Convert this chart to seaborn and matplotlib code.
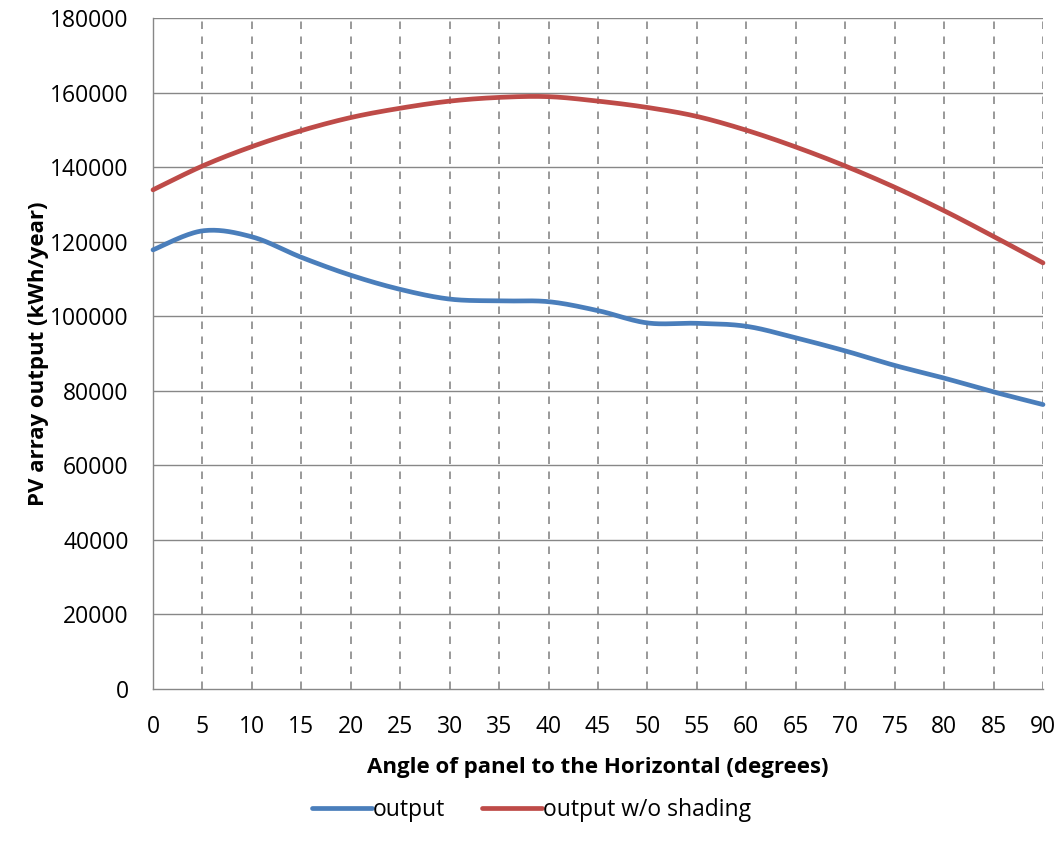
import numpy as np
import pandas as pd
import matplotlib
matplotlib.use("Agg")
import matplotlib.pyplot as plt
import seaborn as sns
from matplotlib.lines import Line2D

angles = [0, 5, 10, 15, 20, 25, 30, 35, 40, 45, 50, 55, 60, 65, 70, 75, 80, 85, 90]
output = [117800, 122900, 121300, 115800, 111000, 107200, 104600, 104100, 103900,
          101500, 98200, 98100, 97300, 94200, 90700, 86800, 83400, 79700, 76300]
output_no_shading = [133900, 140300, 145500, 149800, 153300, 155800, 157700, 158700, 158900,
                     157700, 156000, 153600, 149900, 145400, 140300, 134600, 128300, 121400, 114300]
series_names = ["output", "output w/o shading"]
colors = ["#4A7EBB", "#BE4B48"]
y_ticks = list(range(0, 180001, 20000))
x_ticks = list(range(0, 91, 5))

FONT = ["Open Sans", "DejaVu Sans"]


def smooth(x, y, n=30):
    # Bezier smoothing similar to Excel's smoothed line
    x = np.asarray(x, float)
    y = np.asarray(y, float)
    xs, ys = [], []
    for i in range(len(x) - 1):
        p0 = np.array([x[max(i - 1, 0)], y[max(i - 1, 0)]])
        p1 = np.array([x[i], y[i]])
        p2 = np.array([x[i + 1], y[i + 1]])
        p3 = np.array([x[min(i + 2, len(x) - 1)], y[min(i + 2, len(x) - 1)]])
        c1 = p1 + (p2 - p0) / 6.0
        c2 = p2 - (p3 - p1) / 6.0
        t = np.linspace(0, 1, n, endpoint=(i == len(x) - 2))[:, None]
        pts = ((1 - t) ** 3) * p1 + 3 * ((1 - t) ** 2) * t * c1 + 3 * (1 - t) * t ** 2 * c2 + t ** 3 * p2
        xs.append(pts[:, 0])
        ys.append(pts[:, 1])
    return np.concatenate(xs), np.concatenate(ys)


frames = []
for name, vals in zip(series_names, [output, output_no_shading]):
    sx, sy = smooth(angles, vals)
    frames.append(pd.DataFrame({"angle": sx, "value": sy, "series": name}))
df = pd.concat(frames, ignore_index=True)

sns.set_style("white")
plt.rcParams["font.family"] = FONT
plt.rcParams["text.color"] = "black"
plt.rcParams["axes.labelcolor"] = "black"

fig = plt.figure(figsize=(10.57, 8.51), dpi=100)
ax = fig.add_axes([153 / 1057, 1 - 689 / 851, (1043 - 153) / 1057, (689 - 18) / 851])

sns.lineplot(data=df, x="angle", y="value", hue="series", palette=dict(zip(series_names, colors)),
             sort=False, estimator=None, linewidth=3.4, ax=ax, legend=False)
for ln in ax.get_lines():
    ln.set_solid_capstyle("round")
    ln.set_solid_joinstyle("round")
    ln.set_clip_on(False)
    ln.set_zorder(3)

ax.set_xlim(0, 90)
ax.set_ylim(0, 180000)
ax.set_xticks(x_ticks)
ax.set_yticks(y_ticks)
ax.set_xticklabels([str(v) for v in x_ticks])
ax.set_yticklabels([str(v) for v in y_ticks])

gridc = "#878787"
for v in y_ticks[1:]:
    ax.axhline(v, color=gridc, linewidth=1.0, zorder=0)
for v in x_ticks[1:]:
    ax.axvline(v, color=gridc, linewidth=1.2, linestyle=(0, (4.5, 4.5)), zorder=0)

for s in ["top", "right"]:
    ax.spines[s].set_visible(False)
for s in ["left", "bottom"]:
    ax.spines[s].set_color(gridc)
    ax.spines[s].set_linewidth(1.0)

ax.tick_params(axis="both", which="major", length=5.5, width=1.0, color=gridc,
               labelsize=16.5, labelcolor="black", direction="out")
ax.tick_params(axis="y", pad=12)
ax.tick_params(axis="x", pad=13)

ax.set_xlabel("Angle of panel to the Horizontal (degrees)", fontsize=16, fontweight="bold",
              labelpad=13, color="black")
ax.set_ylabel("PV array output (kWh/year)", fontsize=16, fontweight="bold", labelpad=1, color="black")

handles = [Line2D([0], [0], color=c, linewidth=3.4, solid_capstyle="round") for c in colors]
fig.legend(handles, series_names, loc="center", bbox_to_anchor=(0.503, 1 - 810 / 851), ncol=2,
           frameon=False, fontsize=16.5, handlelength=2.6, handletextpad=0.05, columnspacing=1.6)

fig.savefig("out.png", dpi=100)
